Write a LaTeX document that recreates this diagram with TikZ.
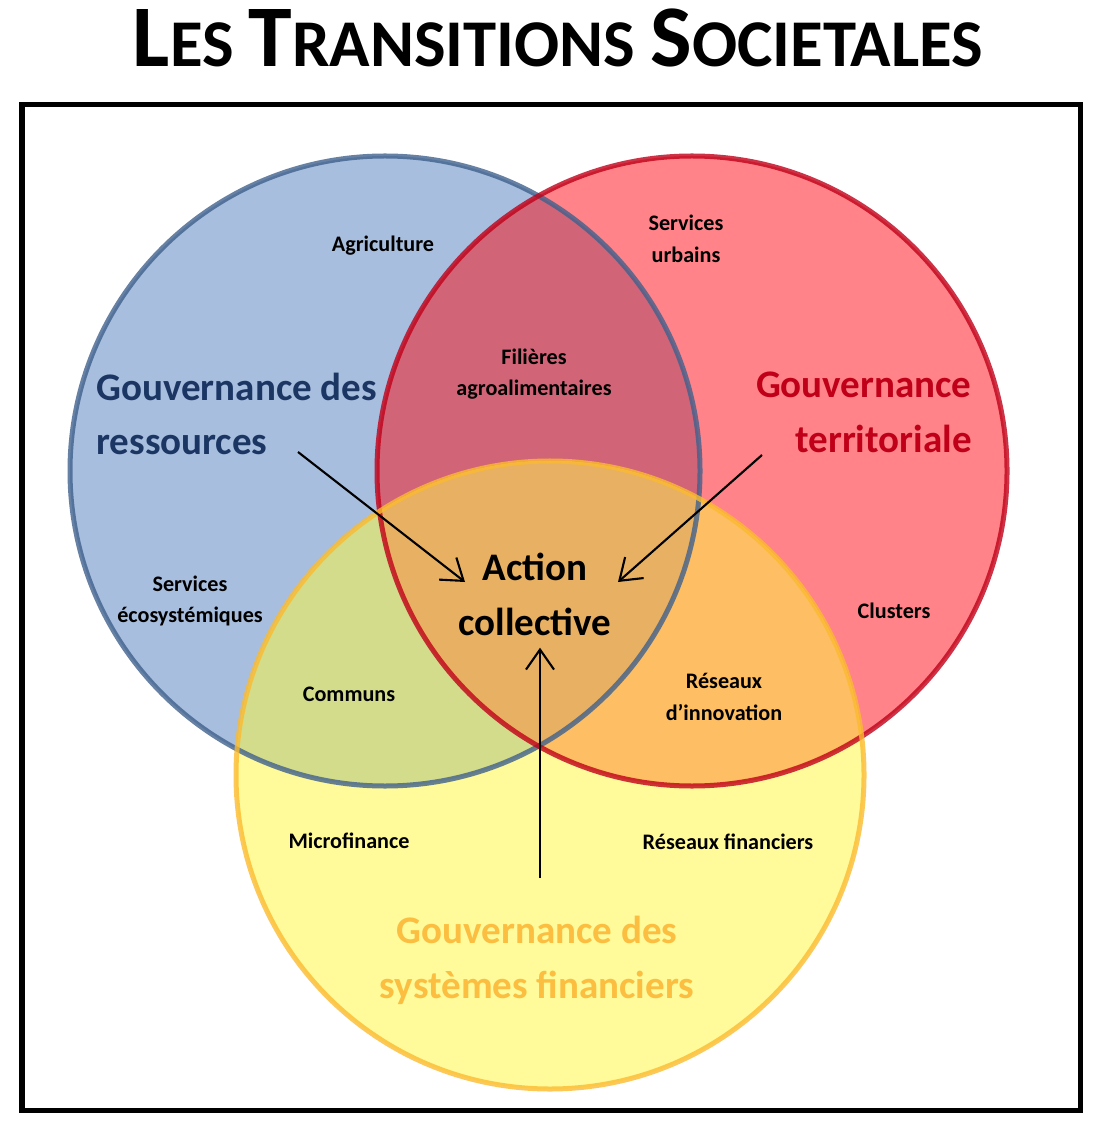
\documentclass[tikz,border=0pt]{standalone}
\usepackage{fontspec}
\setmainfont{Carlito}
\usetikzlibrary{arrows.meta}
\definecolor{bluefill}{RGB}{167,190,222}
\definecolor{bluedraw}{RGB}{64,97,140}
\definecolor{bluetext}{RGB}{28,54,100}
\definecolor{redfill}{RGB}{255,131,137}
\definecolor{reddraw}{RGB}{192,0,24}
\definecolor{yelfill}{RGB}{255,250,154}
\definecolor{yeldraw}{RGB}{251,187,47}
\definecolor{yeltext}{RGB}{251,190,64}
\definecolor{brov}{RGB}{210,100,120}
\definecolor{byov}{RGB}{210,220,138}
\definecolor{ryov}{RGB}{253,190,100}
\definecolor{allov}{RGB}{232,176,98}
\begin{document}
\begin{tikzpicture}[
	x=0.01cm, y=-0.01cm,
	small/.style={
		font=\bfseries\fontsize{6.3}{9}\selectfont,
		align=center
	},
	big/.style={
		font=\bfseries\fontsize{11.1}{15.6}\selectfont
	},
	ring/.style={
		line width=0.5mm,
		draw opacity=.8
	},
	link/.style={
		semithick,
		-{Straight Barb[length=2mm,width=2.8mm]}
	}
	]
	\useasboundingbox (0,0) rectangle (1100,1122);

	% circles
	\def\blue{(385,471) circle (315)}
	\def\red{(692,471) circle (315)}
	\def\yel{(550,775) circle (314)}
	\fill[bluefill] \blue;
	\fill[redfill] \red;
	\fill[yelfill] \yel;
	\begin{scope}
		\clip \blue;
		\fill[brov] \red;
		\fill[byov] \yel;
		\clip \red;
		\fill[allov] \yel;
	\end{scope}
	\begin{scope}
		\clip \red;
		\clip \yel;
		\fill[ryov] \red;
		\clip \blue;
		\fill[allov] \yel;
	\end{scope}
	\draw[ring, bluedraw] \blue;
	\draw[ring, reddraw] \red;
	\draw[ring, yeldraw] \yel;

	% frame and title
	\draw[line width=0.5mm] (22,105) rectangle (1080,1110);
	\node[font=\bfseries] (Title) at (558,38) {\fontsize{25}{30}\selectfont L\fontsize{19}{30}\selectfont ES \fontsize{25}{30}\selectfont T\fontsize{19}{30}\selectfont RANSITIONS \fontsize{25}{30}\selectfont S\fontsize{19}{30}\selectfont OCIETALES};

	% main labels
	\node[big, bluetext, align=left, anchor=west] (Res) at (84,414) {Gouvernance des\\ressources};
	\node[big, reddraw, align=right, anchor=east] (Ter) at (984,412) {Gouvernance\\territoriale};
	\node[big, yeltext, align=center] (Fin) at (537,960) {Gouvernance des\\systèmes financiers};
	\node[big, align=center] (Action) at (535,594) {Action\\collective};

	% small labels
	\node[small] (Agri) at (383,246) {Agriculture};
	\node[small] (Urb) at (686,239) {Services\\urbains};
	\node[small] (Fil) at (534,374) {Filières\\agroalimentaires};
	\node[small] (Eco) at (190,601) {Services\\écosystémiques};
	\node[small] (Clu) at (894,611) {Clusters};
	\node[small] (Com) at (349,694) {Communs};
	\node[small] (Inno) at (724,697) {Réseaux\\d’innovation};
	\node[small] (Micro) at (349,841) {Microfinance};
	\node[small] (RFin) at (728,842) {Réseaux financiers};

	% arrows
	\coordinate (ResEnd) at (298,452);
	\coordinate (TerEnd) at (762,455);
	\coordinate (FinEnd) at (540,878);
	\draw[link] (ResEnd) -- (465,582);
	\draw[link] (TerEnd) -- (618,582);
	\draw[link] (FinEnd) -- (Action.south -| FinEnd);
\end{tikzpicture}
\end{document}
